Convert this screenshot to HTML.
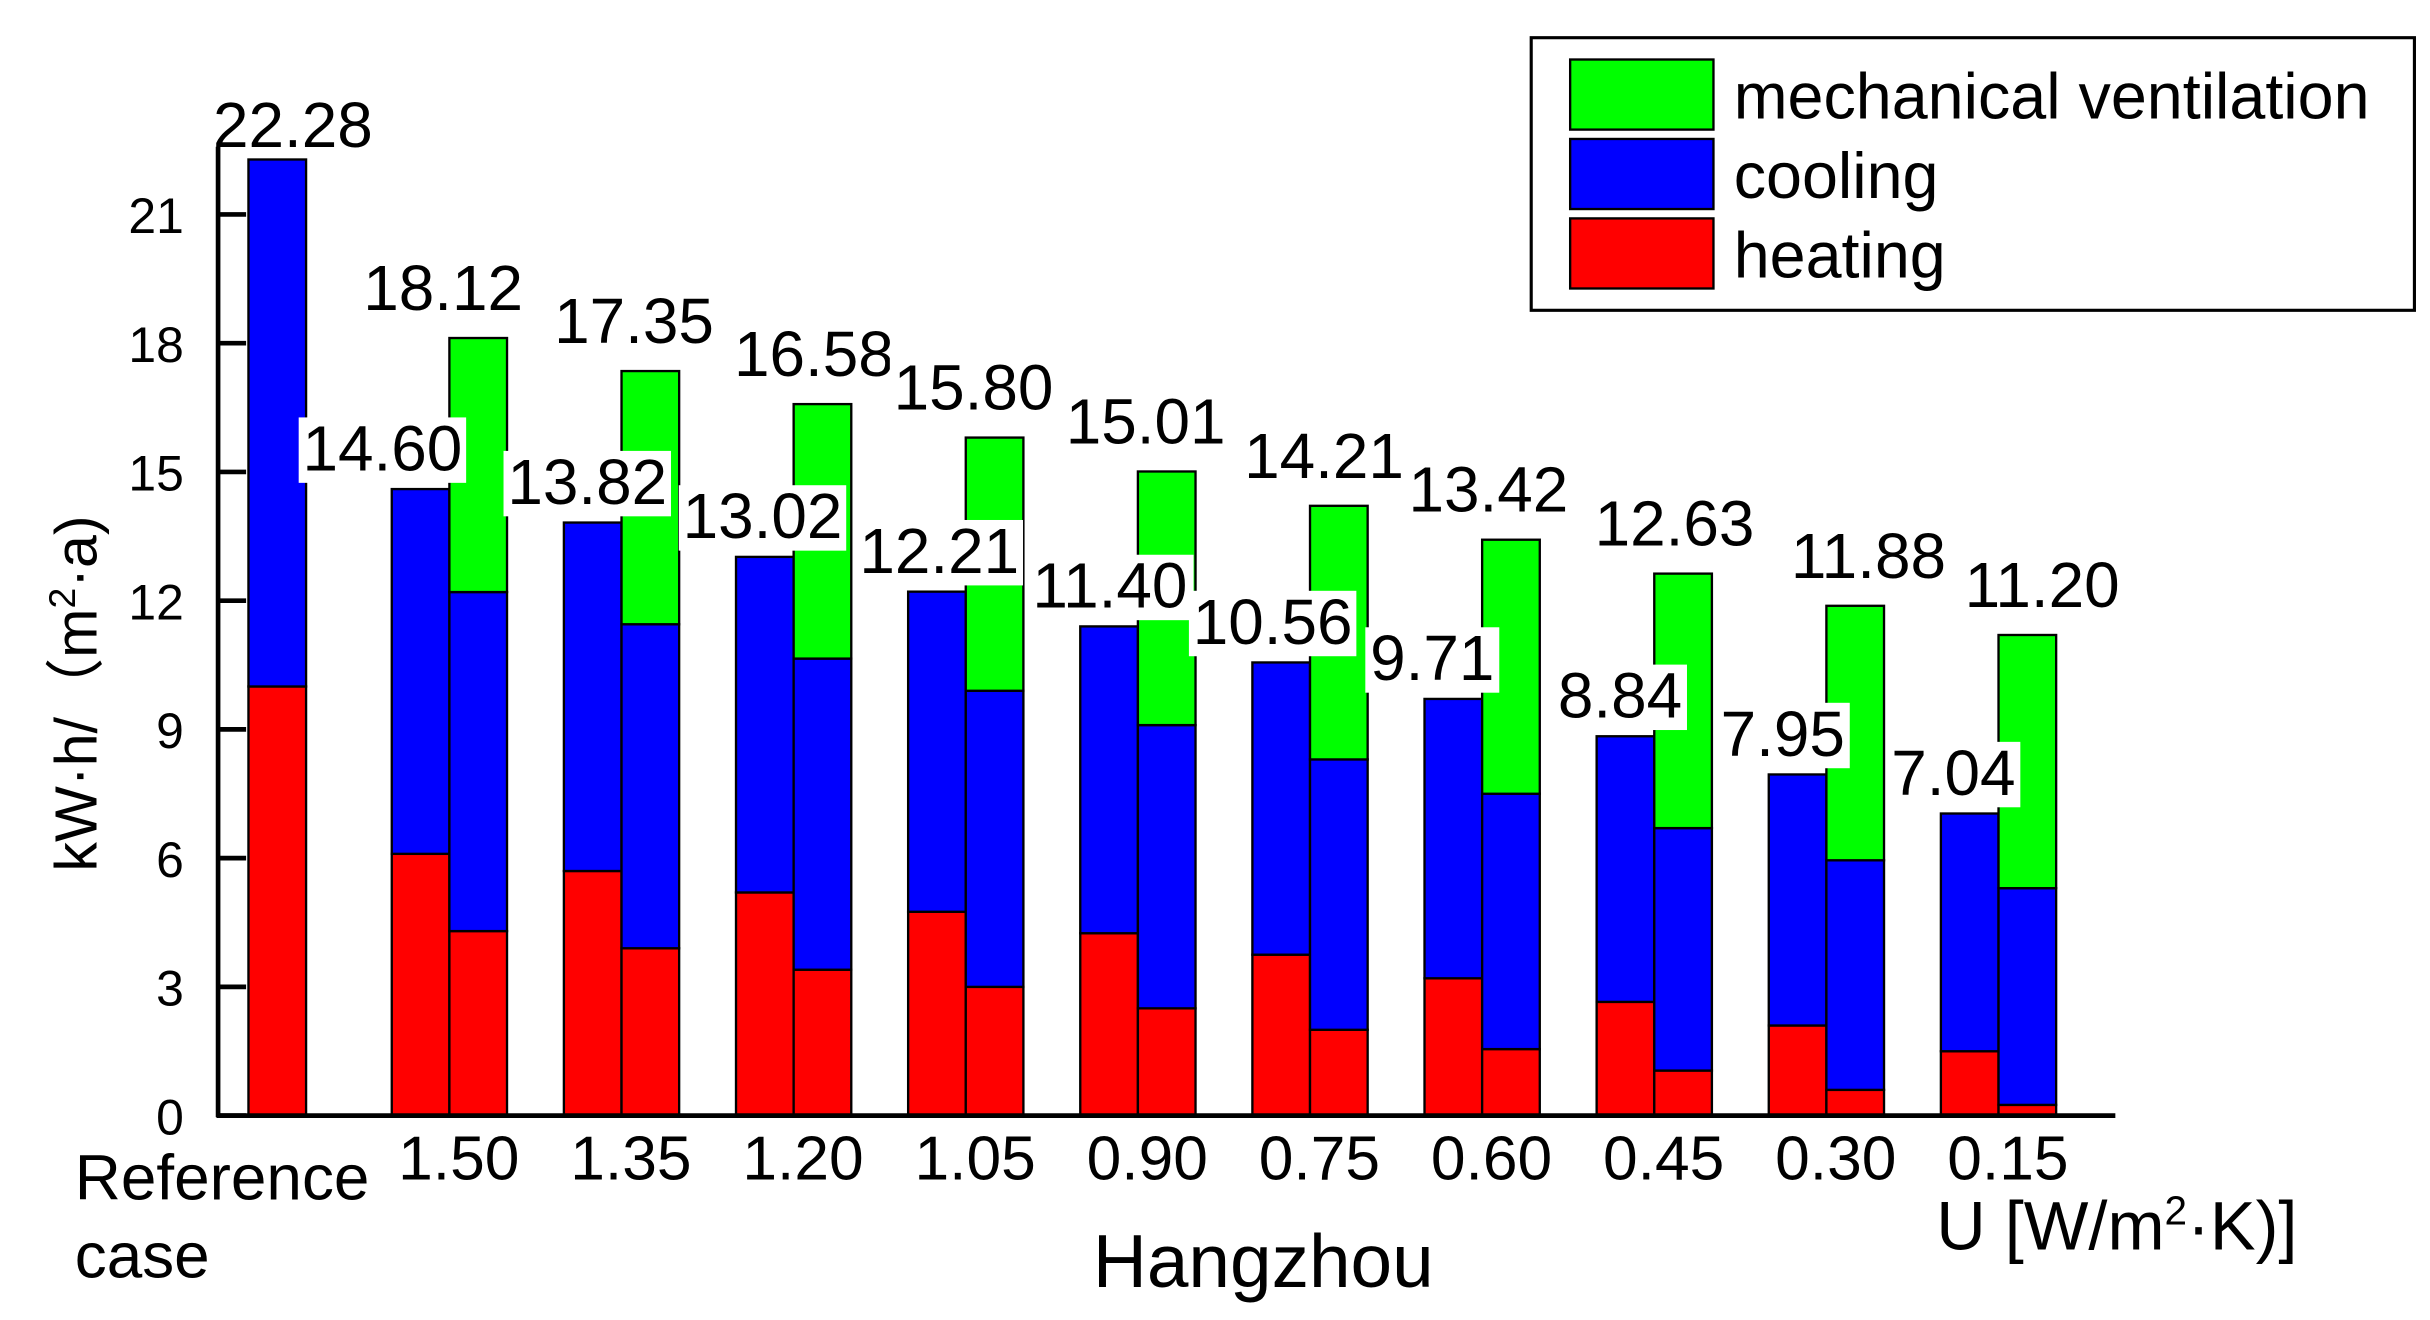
<!DOCTYPE html>
<html><head><meta charset="utf-8"><style>html,body{margin:0;padding:0;background:#fff}svg{display:block}text{font-family:"Liberation Sans","Noto Sans CJK SC",sans-serif}</style></head>
<body>
<svg id="chart" width="2430" height="1320" viewBox="0 0 1560 847" xmlns="http://www.w3.org/2000/svg">
<g id="bars"></g>
<g id="labels"></g>
<line x1="140" y1="717" x2="140" y2="94" stroke="#000" stroke-width="3"/>
<line x1="139" y1="716" x2="1358" y2="716" stroke="#000" stroke-width="3"/>
<g id="yticks" font-size="32" text-anchor="end"></g>
<g id="xticks" font-size="40" text-anchor="middle"></g>
<text x="48" y="770" font-size="41">Reference</text>
<text x="48" y="820" font-size="41">case</text>
<text x="811" y="826" font-size="48" text-anchor="middle">Hangzhou</text>
<text x="1243" y="802" font-size="44">U [W/m<tspan dy="-16" font-size="26">2</tspan><tspan dy="16">·K)]</tspan></text>
<text transform="translate(62,445) rotate(-90)" font-size="38" text-anchor="middle">kW·h/（m<tspan dy="-14" font-size="24">2</tspan><tspan dy="14">·a)</tspan></text>
<g>
<rect x="983" y="24" width="567" height="175" fill="#fff" stroke="#000" stroke-width="2"/>
<rect x="1008" y="38" width="92" height="45" fill="#00ff00" stroke="#000" stroke-width="1.5"/>
<rect x="1008" y="89" width="92" height="45" fill="#0000ff" stroke="#000" stroke-width="1.5"/>
<rect x="1008" y="140" width="92" height="45" fill="#ff0000" stroke="#000" stroke-width="1.5"/>
<text x="1113" y="76" font-size="41.5">mechanical ventilation</text>
<text x="1113" y="127" font-size="41.5">cooling</text>
<text x="1113" y="178" font-size="41.5">heating</text>
</g>
</svg>
<script>
const categories=["1.50","1.35","1.20","1.05","0.90","0.75","0.60","0.45","0.30","0.15"];
const refHeating=10.0;
const refTotal=22.28;
const leftTotal=[14.60,13.82,13.02,12.21,11.40,10.56,9.71,8.84,7.95,7.04];
const leftHeating=[6.1,5.7,5.2,4.75,4.25,3.75,3.2,2.65,2.1,1.5];
const rightTotal=[18.12,17.35,16.58,15.80,15.01,14.21,13.42,12.63,11.88,11.20];
const rightHeatCool=[12.2,11.45,10.65,9.9,9.1,8.3,7.5,6.7,5.95,5.3];
const rightHeating=[4.3,3.9,3.4,3.0,2.5,2.0,1.55,1.05,0.6,0.25];
const yTicks=[0,3,6,9,12,15,18,21];
const leftLabelShift=[-43,-22,-20,-17,-18,-24,-32,-22,-28,-29];
const rightLabelShift=[-4,8,13,5,5,9,4,13,27,28];
const NS="http://www.w3.org/2000/svg";
const y0=716,k=27.55,bw=37;
function Y(v){return y0-v*k;}
function X(i){return 178+110.5*i;}
const bars=document.getElementById('bars'),labels=document.getElementById('labels');
function rect(x,a,b,fill,name){const r=document.createElementNS(NS,'rect');
r.setAttribute('x',x);r.setAttribute('y',Y(b));r.setAttribute('width',bw);r.setAttribute('height',Y(a)-Y(b));
r.setAttribute('fill',fill);r.setAttribute('stroke','#000');r.setAttribute('stroke-width','1.5');


bars.appendChild(r);}
function label(cx,yy,txt,name,bgOn){const w=txt.length*21.5;
if(bgOn){const bg=document.createElementNS(NS,'rect');bg.setAttribute('x',cx-w/2);bg.setAttribute('y',yy-34);bg.setAttribute('width',w);bg.setAttribute('height',42);bg.setAttribute('fill','#fff');


labels.appendChild(bg);}
const t=document.createElementNS(NS,'text');t.setAttribute('x',cx);t.setAttribute('y',yy);t.setAttribute('font-size','41');t.setAttribute('text-anchor','middle');t.textContent=txt;


labels.appendChild(t);}
rect(X(0)-bw/2,0,refHeating,'#ff0000','bar-reference-heating');
rect(X(0)-bw/2,refHeating,refTotal,'#0000ff','bar-reference-cooling');
label(X(0)+10,Y(refTotal)-8,refTotal.toFixed(2),'value-reference',false);
categories.forEach((c,j)=>{const s=X(j+1);
rect(s-bw,0,leftHeating[j],'#ff0000','bar-heating-'+c);
rect(s-bw,leftHeating[j],leftTotal[j],'#0000ff','bar-cooling-'+c);
rect(s,0,rightHeating[j],'#ff0000','bar-vent-case-heating-'+c);
rect(s,rightHeating[j],rightHeatCool[j],'#0000ff','bar-vent-case-cooling-'+c);
rect(s,rightHeatCool[j],rightTotal[j],'#00ff00','bar-ventilation-'+c);
label(s+leftLabelShift[j],Y(leftTotal[j])-12,leftTotal[j].toFixed(2),'value-left-'+c,true);
label(s+rightLabelShift[j],Y(rightTotal[j])-18,rightTotal[j].toFixed(2),'value-right-'+c,true);
const t=document.createElementNS(NS,'text');t.setAttribute('x',s+6);t.setAttribute('y',757);t.textContent=c;


document.getElementById('xticks').appendChild(t);});
yTicks.forEach(v=>{const t=document.createElementNS(NS,'text');t.setAttribute('x',118);t.setAttribute('y',Y(v)+12);t.textContent=v;


document.getElementById('yticks').appendChild(t);
const l=document.createElementNS(NS,'line');l.setAttribute('x1',140);l.setAttribute('x2',158);l.setAttribute('y1',Y(v));l.setAttribute('y2',Y(v));l.setAttribute('stroke','#000');l.setAttribute('stroke-width','3');


document.getElementById('chart').insertBefore(l,bars);});
</script>
</body></html>
